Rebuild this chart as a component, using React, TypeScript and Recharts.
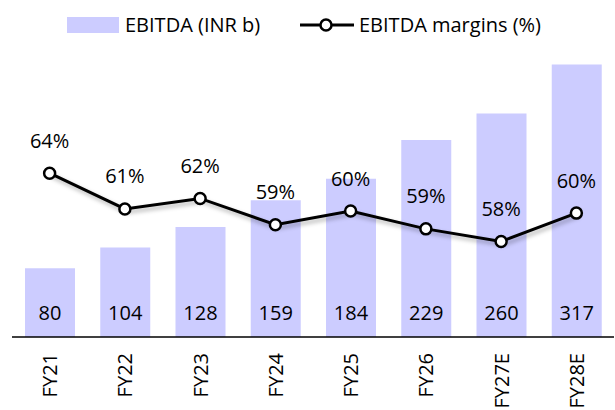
import React from "react";
import { ComposedChart, Bar, Line, XAxis, YAxis, LabelList } from "recharts";

const categories = ["FY21", "FY22", "FY23", "FY24", "FY25", "FY26", "FY27E", "FY28E"];
const ebitda = [80, 104, 128, 159, 184, 229, 260, 317];
const margins = [64.0, 60.6, 61.6, 59.1, 60.4, 58.7, 57.5, 60.2];

const data = categories.map((c, i) => ({ name: c, ebitda: ebitda[i], margin: margins[i] }));

const FONT = "'Open Sans', sans-serif";
const BAR_COLOR = "#ccccff";

const XTick = (props: any) => {
  const { x, y, payload } = props;
  const ty = y + 8;
  return (
    <text
      x={x}
      y={ty}
      transform={`rotate(-90, ${x}, ${ty})`}
      textAnchor="end"
      dominantBaseline="central"
      fontFamily={FONT}
      fontSize={20}
      fill="#000"
    >
      {payload.value}
    </text>
  );
};

const BarValue = (props: any) => {
  const { x, y, width, height, value } = props;
  const cx = x + width / 2;
  const base = y + height;
  return (
    <text x={cx} y={base - 25} textAnchor="middle" dominantBaseline="central" fontFamily={FONT} fontSize={20} fill="#000">
      {value}
    </text>
  );
};

const MarginLabel = (props: any) => {
  const { x, y, value } = props;
  return (
    <text x={x} y={y - 33} textAnchor="middle" dominantBaseline="central" fontFamily={FONT} fontSize={20} fill="#000">
      {Math.round(value)}%
    </text>
  );
};

export default function App() {
  return (
    <div style={{ position: "absolute", left: 0, top: 0, width: 615, height: 410, background: "#fff", overflow: "hidden" }}>
      <style>{`.margin-line .recharts-line-curve, .margin-line .recharts-line-dots { filter: drop-shadow(2px 3px 2px rgba(0,0,0,0.3)); }`}</style>
      <div
        style={{
          position: "absolute",
          left: 0,
          top: 0,
          width: 615,
          height: 40,
          fontFamily: FONT,
          fontSize: 20,
          color: "#000",
        }}
      >
        <div style={{ position: "absolute", left: 67, top: 17, width: 52, height: 16, background: BAR_COLOR }} />
        <div style={{ position: "absolute", left: 125, top: 10, lineHeight: "30px", whiteSpace: "nowrap" }}>EBITDA (INR b)</div>
        <svg style={{ position: "absolute", left: 298, top: 15 }} width={58} height={20}>
          <line x1={2} y1={10} x2={56} y2={10} stroke="#000" strokeWidth={3} />
          <circle cx={28} cy={10} r={5.5} fill="#fff" stroke="#000" strokeWidth={2.5} />
        </svg>
        <div style={{ position: "absolute", left: 359, top: 10, lineHeight: "30px", whiteSpace: "nowrap" }}>EBITDA margins (%)</div>
      </div>
      <ComposedChart
        width={615}
        height={410}
        data={data}
        margin={{ top: 36, right: 1, left: 12, bottom: 13 }}
      >
        <XAxis
          dataKey="name"
          height={60}
          tickLine={false}
          axisLine={{ stroke: "#000", strokeWidth: 1.5 }}
          tick={<XTick />}
          interval={0}
        />
        <YAxis yAxisId="left" hide domain={[0, 350]} />
        <YAxis yAxisId="right" orientation="right" hide domain={[48.4, 77.07]} />
        <Bar yAxisId="left" dataKey="ebitda" fill={BAR_COLOR} barSize={50} isAnimationActive={false}>
          <LabelList dataKey="ebitda" content={<BarValue />} />
        </Bar>
        <Line
          yAxisId="right"
          className="margin-line"
          dataKey="margin"
          stroke="#000"
          strokeWidth={3}
          dot={{ r: 5.5, fill: "#fff", stroke: "#000", strokeWidth: 2.5 }}
          activeDot={false}
          isAnimationActive={false}
        >
          <LabelList dataKey="margin" content={<MarginLabel />} />
        </Line>
      </ComposedChart>
    </div>
  );
}
